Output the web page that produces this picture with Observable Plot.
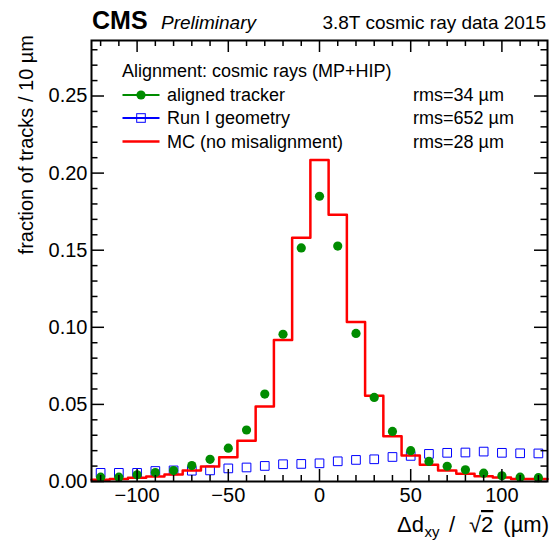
<!DOCTYPE html>
<html>
<head>
<meta charset="utf-8">
<script src="https://cdn.jsdelivr.net/npm/d3@7"></script>
<script src="https://cdn.jsdelivr.net/npm/@observablehq/plot@0.6"></script>
<style>
  html, body { margin: 0; padding: 0; background: white; }
  #chart { width: 551px; height: 548px; }
</style>
</head>
<body>
<div id="chart"></div>
<script>
// ---- data ----
const binCenters = [-120,-110,-100,-90,-80,-70,-60,-50,-40,-30,-20,-10,0,10,20,30,40,50,60,70,80,90,100,110,120];
const binWidth = 10;
const alignedTracker = [0.0028,0.0028,0.0043,0.0058,0.0071,0.0103,0.0144,0.0216,0.0334,0.0567,0.0955,0.1515,0.1850,0.1527,0.0960,0.0545,0.0325,0.0200,0.0130,0.0099,0.0076,0.0054,0.0037,0.0028,0.0025];
const runIGeometry = [0.0056,0.0056,0.0056,0.0068,0.0072,0.0070,0.0072,0.0085,0.0091,0.0101,0.0112,0.0114,0.0118,0.0131,0.0140,0.0144,0.0159,0.0166,0.0179,0.0186,0.0188,0.0194,0.0186,0.0183,0.0182];
const mcNoMisalignment = [0.0011,0.0017,0.0024,0.0032,0.0045,0.0071,0.0097,0.0157,0.0265,0.0487,0.0917,0.1580,0.2085,0.1730,0.1035,0.0556,0.0293,0.0168,0.0108,0.0071,0.0050,0.0034,0.0026,0.0017,0.0017];

const xMajorTicks = [-100,-50,0,50,100];
const xMinorTicks = [-120,-110,-90,-80,-70,-60,-40,-30,-20,-10,10,20,30,40,60,70,80,90,110,120];
const yMajorTicks = [0,0.05,0.10,0.15,0.20,0.25];
const yMinorTicks = [0.01,0.02,0.03,0.04,0.06,0.07,0.08,0.09,0.11,0.12,0.13,0.14,0.16,0.17,0.18,0.19,0.21,0.22,0.23,0.24,0.26,0.27,0.28];

const legendTitle = "Alignment: cosmic rays (MP+HIP)";
const seriesNames = ["aligned tracker","Run I geometry","MC (no misalignment)"];
const rmsLabels = ["rms=34 \u00b5m","rms=652 \u00b5m","rms=28 \u00b5m"];
const colors = {green: "#008c00", blue: "#0000ff", red: "#ff0000"};

// ---- layout ----
const W = 551, H = 548, mL = 91, mR = 4, mT = 40, mB = 67;
const fw = W - mL - mR, fh = H - mT - mB;
const font = "'Liberation Sans', Arial, Helvetica, sans-serif";

const pts = (vals) => binCenters.map((c, i) => ({x: c, y: vals[i]}));
const mcSteps = binCenters.map((c, i) => ({x: c - binWidth / 2, y: mcNoMisalignment[i]}));
mcSteps.push({x: binCenters[binCenters.length - 1] + binWidth / 2, y: mcNoMisalignment[mcNoMisalignment.length - 1]});

const tickW = 1.5;
const svg = Plot.plot({
  width: W, height: H,
  marginLeft: mL, marginRight: mR, marginTop: mT, marginBottom: mB,
  style: {fontFamily: font, fontSize: "20px", color: "black", background: "white"},
  x: {domain: [-125, 125]},
  y: {domain: [0, 0.286]},
  marks: [
    Plot.dot(pts(runIGeometry), {x: "x", y: "y", symbol: "square", r: 4.9, stroke: colors.blue, fill: "none", strokeWidth: 1}),
    Plot.line(mcSteps, {x: "x", y: "y", curve: "step-after", stroke: colors.red, strokeWidth: 2.5}),
    Plot.dot(pts(alignedTracker), {x: "x", y: "y", r: 4.6, fill: colors.green, stroke: "none"}),
    // inward ticks on all four sides
    Plot.tickX(xMajorTicks, {x: d => d, insetTop: fh - 12, stroke: "black", strokeWidth: tickW}),
    Plot.tickX(xMinorTicks, {x: d => d, insetTop: fh - 6, stroke: "black", strokeWidth: tickW}),
    Plot.tickX(xMajorTicks, {x: d => d, insetBottom: fh - 12, stroke: "black", strokeWidth: tickW}),
    Plot.tickX(xMinorTicks, {x: d => d, insetBottom: fh - 6, stroke: "black", strokeWidth: tickW}),
    Plot.tickY(yMajorTicks, {y: d => d, insetRight: fw - 13, stroke: "black", strokeWidth: tickW}),
    Plot.tickY(yMinorTicks, {y: d => d, insetRight: fw - 6.5, stroke: "black", strokeWidth: tickW}),
    Plot.tickY(yMajorTicks, {y: d => d, insetLeft: fw - 13, stroke: "black", strokeWidth: tickW}),
    Plot.tickY(yMinorTicks, {y: d => d, insetLeft: fw - 6.5, stroke: "black", strokeWidth: tickW}),
    Plot.axisX(xMajorTicks, {tickSize: 0, tickPadding: 6, fontSize: 20, label: null}),
    Plot.axisY(yMajorTicks, {tickSize: 0, tickPadding: 4, fontSize: 20, label: null, tickFormat: d3.format(".2f")}),
    Plot.frame({stroke: "black", strokeWidth: 2})
  ]
});
document.getElementById("chart").appendChild(svg);

// ---- titles, axis labels and legend ----
const s = d3.select(svg);
const g = s.append("g").attr("font-family", font).attr("fill", "black").attr("text-anchor", "start");

g.append("text").attr("x", 92).attr("y", 29).attr("font-size", 25).attr("font-weight", "bold").text("CMS");
g.append("text").attr("x", 161).attr("y", 29).attr("font-size", 19).attr("font-style", "italic").text("Preliminary");
g.append("text").attr("x", 546).attr("y", 28.5).attr("font-size", 19).attr("text-anchor", "end").text("3.8T cosmic ray data 2015");

// y label
g.append("text").attr("transform", "translate(33,35) rotate(-90)").attr("text-anchor", "end")
  .attr("font-size", 20).text("fraction of tracks / 10 \u00b5m");

// x label  (Δd_xy / √2 (µm)), pieces laid out as in the reference
const xg = g.append("g").attr("font-size", 22);
const xb = 532;
xg.append("text").attr("x", 397).attr("y", xb).text("\u0394d");
xg.append("text").attr("x", 424.5).attr("y", xb + 5).attr("font-size", 15).text("xy");
xg.append("text").attr("x", 449).attr("y", xb).text("/");
xg.append("text").attr("x", 469).attr("y", xb).text("\u221a");
xg.append("text").attr("x", 481).attr("y", xb).style("text-decoration", "overline").text("2");
xg.append("text").attr("x", 549).attr("y", xb).attr("text-anchor", "end").text("(\u00b5m)");

// legend
const lg = g.append("g").attr("font-size", 18);
lg.append("text").attr("x", 122).attr("y", 71).attr("dy", "0.35em").text(legendTitle);
const rowY = [95, 118, 141.5];
const sx0 = 122.5, sx1 = 159.5, sxm = 141;
seriesNames.forEach((name, i) => {
  lg.append("text").attr("x", 167).attr("y", rowY[i]).attr("dy", "0.35em").text(name);
  lg.append("text").attr("x", 413).attr("y", rowY[i]).attr("dy", "0.35em").text(rmsLabels[i]);
});
lg.append("line").attr("x1", sx0).attr("x2", sx1).attr("y1", rowY[0]).attr("y2", rowY[0]).attr("stroke", colors.green).attr("stroke-width", 2);
lg.append("circle").attr("cx", sxm).attr("cy", rowY[0]).attr("r", 4.6).attr("fill", colors.green);
lg.append("line").attr("x1", sx0).attr("x2", sx1).attr("y1", rowY[1]).attr("y2", rowY[1]).attr("stroke", colors.blue).attr("stroke-width", 2);
lg.append("rect").attr("x", sxm - 4.3).attr("y", rowY[1] - 4.3).attr("width", 8.6).attr("height", 8.6).attr("fill", "none").attr("stroke", colors.blue).attr("stroke-width", 1);
lg.append("line").attr("x1", sx0).attr("x2", sx1).attr("y1", rowY[2]).attr("y2", rowY[2]).attr("stroke", colors.red).attr("stroke-width", 2.5);
</script>
</body>
</html>
